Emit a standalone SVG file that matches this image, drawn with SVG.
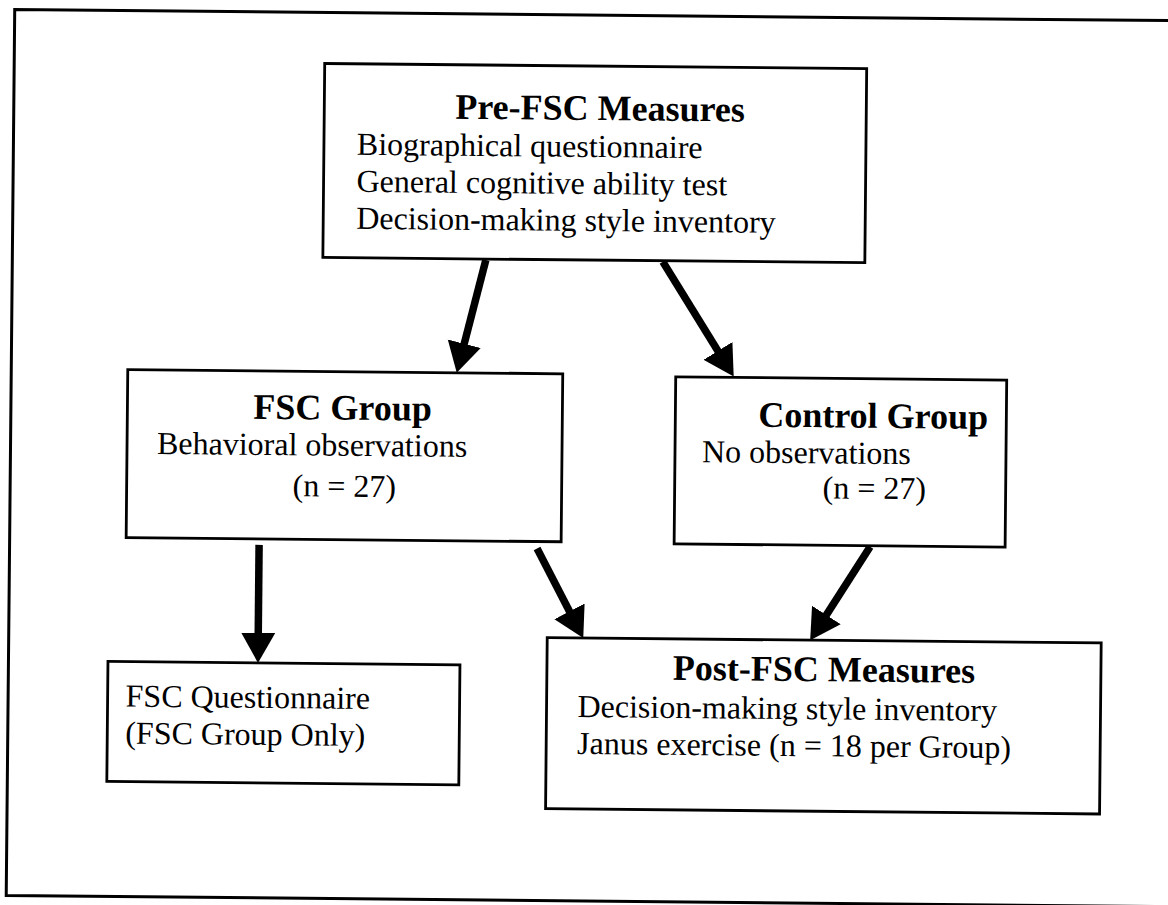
<svg xmlns="http://www.w3.org/2000/svg" width="1168" height="905" viewBox="0 0 1168 905">
<style>
.box{fill:#fff;stroke:#000;stroke-width:2.8}
.frame{fill:none;stroke:#000;stroke-width:3}
.t{font-family:"Liberation Serif","Times New Roman",serif;font-size:36px;font-weight:bold;fill:#000}
.b{font-family:"Liberation Serif","Times New Roman",serif;font-size:32px;fill:#000}
.arr{stroke:#000;stroke-width:7.5;fill:none;marker-end:url(#ah)}
</style>
<defs>
<marker id="ah" markerUnits="userSpaceOnUse" markerWidth="32" markerHeight="36" viewBox="0 -18 32 36" refX="10" refY="0" orient="auto">
<path d="M0,-17 L30,0 L0,17 Z" fill="#000"/>
</marker>
</defs>
<rect width="1168" height="905" fill="#fff"/>
<g transform="rotate(0.55 584 452)">
<path class="frame" d="M1185,15 L10.5,15 L10.5,901 L1185,901"/>
<g id="pre">
<rect class="box" x="321" y="66" width="542" height="194"/>
<text class="t" x="452" y="120">Pre-FSC Measures</text>
<text class="b" x="354" y="157">Biographical questionnaire</text>
<text class="b" x="354" y="194">General cognitive ability test</text>
<text class="b" x="354" y="231">Decision-making style inventory</text>
</g>
<g id="fsc">
<rect class="box" x="127" y="374" width="435" height="168"/>
<text class="t" x="253" y="422">FSC Group</text>
<text class="b" x="157" y="458">Behavioral observations</text>
<text class="b" x="293" y="499">(n = 27)</text>
</g>
<g id="control">
<rect class="box" x="675" y="376" width="331" height="167"/>
<text class="t" x="758" y="425">Control Group</text>
<text class="b" x="702" y="461">No observations</text>
<text class="b" x="823" y="496">(n = 27)</text>
</g>
<g id="questionnaire">
<rect class="box" x="110" y="666" width="352" height="120"/>
<text class="b" x="128" y="711">FSC Questionnaire</text>
<text class="b" x="128" y="748">(FSC Group Only)</text>
</g>
<g id="post">
<rect class="box" x="549" y="638" width="554" height="171"/>
<text class="t" x="675" y="679">Post-FSC Measures</text>
<text class="b" x="580" y="717">Decision-making style inventory</text>
<text class="b" x="580" y="754">Janus exercise (n = 18 per Group)</text>
</g>
<g id="connectors">
<line class="arr" x1="484" y1="261" x2="460.8" y2="354.6"/>
<line class="arr" x1="661" y1="261" x2="722.3" y2="358.1"/>
<line class="arr" x1="260" y1="548" x2="260" y2="646"/>
<line class="arr" x1="538" y1="549" x2="575.7" y2="620.3"/>
<line class="arr" x1="871" y1="544" x2="822.6" y2="621.1"/>
</g>
</g>
</svg>
